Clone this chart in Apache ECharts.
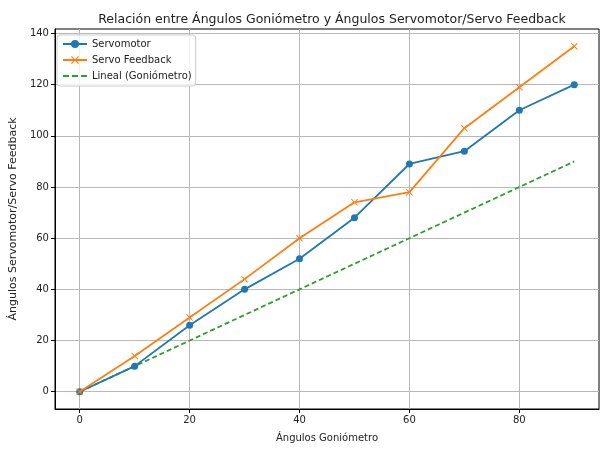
<!DOCTYPE html>
<html>
<head>
<meta charset="utf-8">
<script src="https://cdn.jsdelivr.net/npm/echarts@6/dist/echarts.min.js"></script>
<style>
  html, body { margin: 0; padding: 0; background: #fff; }
  #chart { width: 602px; height: 449px; }
</style>
</head>
<body>
<div id="chart"></div>
<script>
// datos
const goniometro = [0, 10, 20, 30, 40, 50, 60, 70, 80, 90];
const servomotor = [0, 10, 26, 40, 52, 68, 89, 94, 110, 120];
const servoFeedback = [0, 14, 29, 44, 60, 74, 78, 103, 119, 135];
const lineal = [0, 10, 20, 30, 40, 50, 60, 70, 80, 90];
const xTicks = [0, 20, 40, 60, 80];
const yTicks = [0, 20, 40, 60, 80, 100, 120, 140];

const font = 'DejaVu Sans';
const xMark = 'path://M0,1L1,0L5,4L9,0L10,1L6,5L10,9L9,10L5,6L1,10L0,9L4,5Z';
const dashIcon = 'path://M0,4h6v2h-6zM9,4h6v2h-6zM18,4h6v2h-6z';

function pairs(ys) {
    return goniometro.map((x, i) => [x, ys[i]]);
}

var myChart = echarts.init(document.getElementById('chart'));
myChart.setOption({
    animation: false,
    textStyle: { fontFamily: font },
    title: {
        text: 'Relación entre Ángulos Goniómetro y Ángulos Servomotor/Servo Feedback',
        left: 327,
        textAlign: 'center',
        top: 8,
        textStyle: { fontFamily: font, fontSize: 12.5, fontWeight: 'normal', color: '#222' }
    },
    legend: {
        left: 57,
        top: 35,
        orient: 'vertical',
        itemGap: 6,
        itemWidth: 24,
        itemHeight: 10,
        padding: [4, 4, 5, 5],
        borderColor: '#ccc',
        borderWidth: 1,
        borderRadius: 3,
        backgroundColor: 'rgba(255,255,255,0.8)',
        textStyle: { fontFamily: font, fontSize: 10, color: '#222' },
        data: [
            'Servomotor',
            'Servo Feedback',
            { name: 'Lineal (Goniómetro)', icon: dashIcon }
        ]
    },
    grid: { left: 53, right: 3, top: 29, bottom: 40, show: true, borderColor: '#000', borderWidth: 1, backgroundColor: 'transparent' },
    xAxis: {
        type: 'value',
        min: -4.5,
        max: 94.5,
        name: 'Ángulos Goniómetro',
        nameLocation: 'middle',
        nameGap: 24,
        nameTextStyle: { fontFamily: font, fontSize: 10, color: '#222' },
        axisLine: { show: true, onZero: false, lineStyle: { color: '#000', width: 1 } },
        axisTick: { show: true, length: 4, customValues: xTicks, lineStyle: { color: '#000' } },
        axisLabel: { customValues: xTicks, fontSize: 10, color: '#222', margin: 6 },
        splitLine: { show: true, customValues: xTicks, lineStyle: { color: '#b8b8b8', width: 1 } }
    },
    yAxis: {
        type: 'value',
        min: -6.75,
        max: 141.75,
        name: 'Ángulos Servomotor/Servo Feedback',
        nameLocation: 'middle',
        nameGap: 27,
        nameTextStyle: { fontFamily: font, fontSize: 11, color: '#222' },
        axisLine: { show: true, onZero: false, lineStyle: { color: '#000', width: 1 } },
        axisTick: { show: true, length: 4, customValues: yTicks, lineStyle: { color: '#000' } },
        axisLabel: { customValues: yTicks, fontSize: 10, color: '#222', margin: 6 },
        splitLine: { show: true, customValues: yTicks, lineStyle: { color: '#b8b8b8', width: 1 } }
    },
    series: [
        {
            name: 'Servomotor',
            type: 'line',
            data: pairs(servomotor),
            symbol: 'circle',
            symbolSize: 7,
            color: '#1f77b4',
            lineStyle: { width: 1.8 },
            z: 3
        },
        {
            name: 'Servo Feedback',
            type: 'line',
            data: pairs(servoFeedback),
            symbol: xMark,
            symbolSize: 7,
            color: '#ff7f0e',
            lineStyle: { width: 1.8 },
            z: 4
        },
        {
            name: 'Lineal (Goniómetro)',
            type: 'line',
            data: pairs(lineal),
            symbol: 'none',
            color: '#2ca02c',
            lineStyle: { width: 1.8, type: [5, 3] },
            z: 2
        }
    ]
});
</script>
</body>
</html>
